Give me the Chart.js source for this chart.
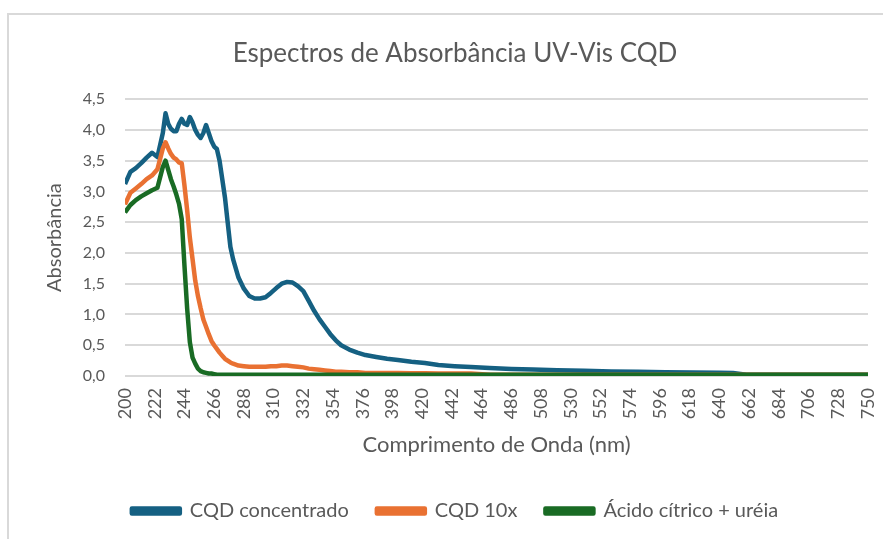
<!DOCTYPE html>
<html>
<head>
<meta charset="utf-8">
<script src="https://cdn.jsdelivr.net/npm/chart.js@4"></script>
<style>
  html, body { margin: 0; padding: 0; background: #fff; overflow: hidden; }
  #frame { position: absolute; left: 7px; top: 13px; width: 900px; height: 600px; border: 2px solid #d9d9d9; }
  #wrap { position: absolute; left: 0; top: 0; width: 883px; height: 539px; }
</style>
</head>
<body>
<div id="frame"></div>
<div id="wrap"><canvas id="uvVisChart" width="883" height="539"></canvas></div>
<script>
// comprimento de onda (nm) e absorbancias
const wavelengths = [200, 204, 208, 212, 216, 220, 224, 228, 230, 232, 234, 236, 238, 240, 242, 244, 246, 248, 250,
    252, 254, 256, 258, 260, 262, 264, 266, 268, 270, 272, 274, 276, 278, 280, 284, 288, 292, 296, 300, 304, 308,
    312, 316, 320, 324, 328, 332, 336, 340, 344, 348, 352, 356, 360, 366, 372, 378, 386, 394, 402, 412, 422, 432,
    444, 456, 470, 486, 502, 520, 540, 560, 580, 600, 620, 640, 650, 660, 680, 700, 720, 750];

const cqdConcentrado = [3.12, 3.32, 3.38, 3.46, 3.55, 3.63, 3.56, 3.95, 4.27, 4.10, 4.02, 3.98, 3.98, 4.10, 4.18,
    4.10, 4.08, 4.21, 4.12, 4.00, 3.92, 3.87, 3.95, 4.08, 3.95, 3.82, 3.73, 3.69, 3.50, 3.20, 2.90, 2.50, 2.10, 1.90,
    1.60, 1.42, 1.30, 1.26, 1.26, 1.28, 1.35, 1.43, 1.50, 1.53, 1.52, 1.46, 1.38, 1.22, 1.06, 0.92, 0.80, 0.68, 0.58,
    0.50, 0.43, 0.38, 0.34, 0.31, 0.28, 0.26, 0.23, 0.21, 0.18, 0.16, 0.145, 0.13, 0.115, 0.105, 0.095, 0.085, 0.075,
    0.068, 0.062, 0.057, 0.052, 0.048, 0.02, 0.02, 0.02, 0.02, 0.02];

const cqd10x = [2.79, 2.98, 3.05, 3.12, 3.20, 3.26, 3.36, 3.70, 3.80, 3.70, 3.61, 3.55, 3.52, 3.47, 3.46, 3.10,
    2.70, 2.25, 1.90, 1.55, 1.30, 1.10, 0.92, 0.80, 0.68, 0.57, 0.50, 0.44, 0.38, 0.33, 0.28, 0.25, 0.22, 0.20, 0.17,
    0.16, 0.15, 0.15, 0.15, 0.15, 0.16, 0.16, 0.17, 0.17, 0.16, 0.15, 0.14, 0.12, 0.11, 0.10, 0.09, 0.08, 0.07, 0.07,
    0.06, 0.06, 0.05, 0.05, 0.05, 0.05, 0.045, 0.045, 0.04, 0.04, 0.04, 0.02, 0.02, 0.02, 0.02, 0.02, 0.02, 0.02,
    0.02, 0.02, 0.02, 0.02, 0.02, 0.02, 0.02, 0.02, 0.02];

const acidoCitricoUreia = [2.66, 2.78, 2.86, 2.92, 2.97, 3.02, 3.06, 3.40, 3.50, 3.35, 3.20, 3.08, 2.95, 2.80, 2.55,
    1.80, 1.10, 0.55, 0.30, 0.20, 0.12, 0.08, 0.06, 0.05, 0.04, 0.04, 0.03, 0.02, 0.02, 0.02, 0.02, 0.02, 0.02, 0.02,
    0.02, 0.02, 0.02, 0.02, 0.02, 0.02, 0.02, 0.02, 0.02, 0.02, 0.02, 0.02, 0.02, 0.02, 0.02, 0.02, 0.02, 0.02, 0.02,
    0.02, 0.02, 0.02, 0.02, 0.02, 0.02, 0.02, 0.02, 0.02, 0.02, 0.02, 0.02, 0.02, 0.02, 0.02, 0.02, 0.02, 0.02, 0.02,
    0.02, 0.02, 0.02, 0.02, 0.02, 0.02, 0.02, 0.02, 0.02];

const xTicks = [200, 222, 244, 266, 288, 310, 332, 354, 376, 398, 420, 442, 464, 486, 508, 530, 552, 574, 596,
    618, 640, 662, 684, 706, 728, 750];

const textColor = '#595959';
const gridColor = '#d9d9d9';
const fontFamily = 'Lato, "Open Sans", sans-serif';

const toPoints = values => wavelengths.map((w, i) => ({ x: w, y: values[i] }));

// order: a ultima serie fica por cima, como no Excel
const series = [
    { label: 'CQD concentrado', data: cqdConcentrado, color: '#156082', order: 3 },
    { label: 'CQD 10x', data: cqd10x, color: '#E97132', order: 2 },
    { label: 'Ácido cítrico + uréia', data: acidoCitricoUreia, color: '#196B24', order: 1 }
];

const ctx = document.getElementById('uvVisChart').getContext('2d');

new Chart(ctx, {
    type: 'line',
    data: {
        datasets: series.map(s => ({
            label: s.label,
            data: toPoints(s.data),
            order: s.order,
            borderColor: s.color,
            backgroundColor: s.color,
            borderWidth: 4.5,
            pointRadius: 0,
            tension: 0,
            borderJoinStyle: 'round'
        }))
    },
    options: {
        responsive: false,
        animation: false,
        layout: {
            padding: { left: 42, right: 15, top: 0, bottom: 8 }
        },
        scales: {
            x: {
                type: 'linear',
                min: 200,
                max: 750,
                afterBuildTicks: scale => {
                    scale.ticks = xTicks.map(v => ({ value: v }));
                },
                afterFit: scale => {
                    scale.height = 97;
                    scale.paddingLeft = 0;
                    scale.paddingRight = 0;
                },
                ticks: {
                    color: textColor,
                    font: { family: fontFamily, size: 18 },
                    minRotation: 90,
                    maxRotation: 90,
                    autoSkip: false,
                    padding: 12
                },
                grid: { display: false, drawTicks: false },
                border: { display: false },
                title: {
                    display: true,
                    text: 'Comprimento de Onda (nm)',
                    color: textColor,
                    font: { family: fontFamily, size: 22 },
                    padding: { top: 0, bottom: 15 }
                }
            },
            y: {
                min: 0,
                max: 4.5,
                afterFit: scale => { scale.width = 83; },
                ticks: {
                    stepSize: 0.5,
                    color: textColor,
                    font: { family: fontFamily, size: 16 },
                    padding: 20,
                    callback: v => v.toFixed(1).replace('.', ',')
                },
                grid: { color: gridColor, lineWidth: 2, drawTicks: false },
                border: { display: false },
                title: {
                    display: true,
                    text: 'Absorbância',
                    color: textColor,
                    font: { family: fontFamily, size: 20 },
                    padding: { top: 1, bottom: 0 }
                }
            }
        },
        plugins: {
            title: {
                display: true,
                text: 'Espectros de Absorbância UV-Vis CQD',
                color: textColor,
                font: { family: fontFamily, size: 26, weight: 'normal' },
                padding: { top: 38, bottom: 30 }
            },
            legend: {
                position: 'bottom',
                labels: {
                    color: textColor,
                    font: { family: fontFamily, size: 20 },
                    boxWidth: 48,
                    boxHeight: 5,
                    padding: 28,
                    sort: (a, b) => a.datasetIndex - b.datasetIndex
                }
            },
            tooltip: { enabled: false }
        }
    }
});
</script>
</body>
</html>
